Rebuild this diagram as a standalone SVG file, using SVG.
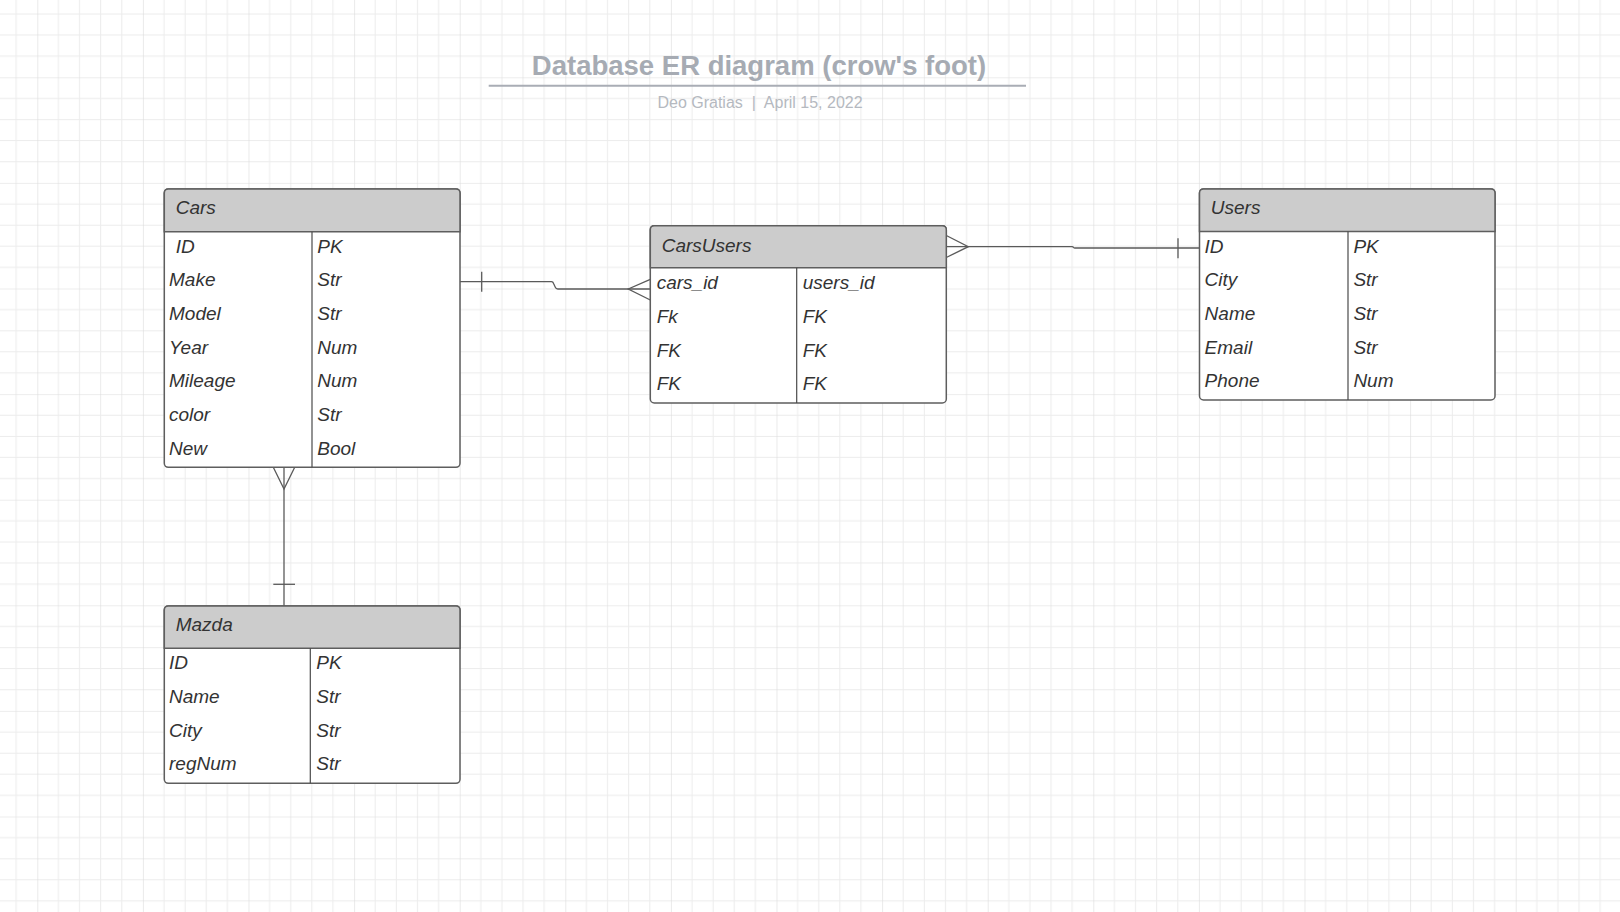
<svg xmlns="http://www.w3.org/2000/svg" width="1620" height="912" viewBox="0 0 1620 912">
<defs>
<pattern id="grid" x="37.3" y="77.3" width="105.6" height="105.6" patternUnits="userSpaceOnUse">
<path d="M21.12,0V105.6M42.24,0V105.6M63.36,0V105.6M84.48,0V105.6M0,21.12H105.6M0,42.24H105.6M0,63.36H105.6M0,84.48H105.6" stroke="#ececec" stroke-width="1" fill="none"/>
<path d="M0,0V105.6M0,0H105.6" stroke="#dcdcdc" stroke-width="1.2" fill="none"/>
</pattern>
<style>
.box{fill:#ffffff;stroke:#5e5e5e;stroke-width:1.5}
.hdr{fill:#cccccc;stroke:#5e5e5e;stroke-width:1.5}
.sep{stroke:#4a4a4a;stroke-width:1.5;fill:none}
.div{stroke:#4a4a4a;stroke-width:1.2;fill:none}
.t{font-family:"Liberation Sans",Arial,sans-serif;font-style:italic;font-size:19px;fill:#333333}
.conn{stroke:#5a5a5a;stroke-width:1.3;fill:none}
</style>
</defs>
<rect width="1620" height="912" fill="#ffffff"/>
<rect width="1620" height="912" fill="url(#grid)"/>

<g id="title">
<text x="759" y="75" text-anchor="middle" font-family="Liberation Sans, Arial, sans-serif" font-weight="bold" font-size="27.5" fill="#a6abb3">Database ER diagram (crow's foot)</text>
<line x1="488.7" y1="85.7" x2="1026" y2="85.7" stroke="#a9adb5" stroke-width="2"/>
<text x="760" y="108.3" text-anchor="middle" font-family="Liberation Sans, Arial, sans-serif" font-size="16" fill="#b5b9c0" xml:space="preserve">Deo Gratias  |  April 15, 2022</text>
</g>

<g id="connectors">
<path class="conn" d="M460,281.7H551.5q1.5,0 2.2,2l1.6,3.6q0.7,1.7 2.5,1.7H650.3"/>
<line class="conn" x1="481.7" y1="271.7" x2="481.7" y2="291.7"/>
<path class="conn" d="M650.3,279.3L628.3,289L650.3,300"/>
<path class="conn" d="M946.3,246.7H1072q1,0 1.5,0.7q0.5,0.6 1.5,0.6H1199.5"/>
<line class="conn" x1="1178" y1="238.3" x2="1178" y2="258.3"/>
<path class="conn" d="M946.3,235.5L968.3,246.7L946.3,257.5"/>
<line class="conn" x1="284" y1="467.3" x2="284" y2="606"/>
<path class="conn" d="M273.3,467.3L284,489L294.7,467.3"/>
<line class="conn" x1="273.3" y1="584.3" x2="295" y2="584.3"/>
</g>

<g id="cars">
<rect class="box" x="164.3" y="189" width="295.7" height="278.3" rx="4"/>
<path class="hdr" d="M164.3,231.7V193Q164.3,189 168.3,189H456Q460,189 460,193V231.7Z"/>
<line class="div" x1="312" y1="231.7" x2="312" y2="467.3"/>
<text class="t" x="175.7" y="214.3">Cars</text>
<text class="t" x="175.7" y="252.7">ID</text><text class="t" x="317.3" y="252.7">PK</text>
<text class="t" x="169" y="286.4">Make</text><text class="t" x="317.3" y="286.4">Str</text>
<text class="t" x="169" y="320">Model</text><text class="t" x="317.3" y="320">Str</text>
<text class="t" x="169" y="353.7">Year</text><text class="t" x="317.3" y="353.7">Num</text>
<text class="t" x="169" y="387.3">Mileage</text><text class="t" x="317.3" y="387.3">Num</text>
<text class="t" x="169" y="421">color</text><text class="t" x="317.3" y="421">Str</text>
<text class="t" x="169" y="454.6">New</text><text class="t" x="317.3" y="454.6">Bool</text>
</g>

<g id="carsusers">
<rect class="box" x="650.3" y="225.7" width="296" height="177.3" rx="4"/>
<path class="hdr" d="M650.3,267.7V229.7Q650.3,225.7 654.3,225.7H942.3Q946.3,225.7 946.3,229.7V267.7Z"/>
<line class="div" x1="796.7" y1="267.7" x2="796.7" y2="403"/>
<text class="t" x="661.7" y="251.7">CarsUsers</text>
<text class="t" x="656.7" y="289">cars_id</text><text class="t" x="802.7" y="289">users_id</text>
<text class="t" x="656.7" y="322.8">Fk</text><text class="t" x="802.7" y="322.8">FK</text>
<text class="t" x="656.7" y="356.6">FK</text><text class="t" x="802.7" y="356.6">FK</text>
<text class="t" x="656.7" y="390.4">FK</text><text class="t" x="802.7" y="390.4">FK</text>
</g>

<g id="users">
<rect class="box" x="1199.5" y="189" width="295.5" height="211" rx="4"/>
<path class="hdr" d="M1199.5,231.5V193Q1199.5,189 1203.5,189H1491Q1495,189 1495,193V231.5Z"/>
<line class="div" x1="1348" y1="231.5" x2="1348" y2="400"/>
<text class="t" x="1210.8" y="214.3">Users</text>
<text class="t" x="1204.6" y="252.5">ID</text><text class="t" x="1353.4" y="252.5">PK</text>
<text class="t" x="1204.6" y="286.2">City</text><text class="t" x="1353.4" y="286.2">Str</text>
<text class="t" x="1204.6" y="319.9">Name</text><text class="t" x="1353.4" y="319.9">Str</text>
<text class="t" x="1204.6" y="353.6">Email</text><text class="t" x="1353.4" y="353.6">Str</text>
<text class="t" x="1204.6" y="387.3">Phone</text><text class="t" x="1353.4" y="387.3">Num</text>
</g>

<g id="mazda">
<rect class="box" x="164.3" y="606" width="295.7" height="177.3" rx="4"/>
<path class="hdr" d="M164.3,648.3V610Q164.3,606 168.3,606H456Q460,606 460,610V648.3Z"/>
<line class="div" x1="310.3" y1="648.3" x2="310.3" y2="783.3"/>
<text class="t" x="175.7" y="630.7">Mazda</text>
<text class="t" x="169" y="669">ID</text><text class="t" x="316.3" y="669">PK</text>
<text class="t" x="169" y="702.8">Name</text><text class="t" x="316.3" y="702.8">Str</text>
<text class="t" x="169" y="736.5">City</text><text class="t" x="316.3" y="736.5">Str</text>
<text class="t" x="169" y="770.3">regNum</text><text class="t" x="316.3" y="770.3">Str</text>
</g>
</svg>
